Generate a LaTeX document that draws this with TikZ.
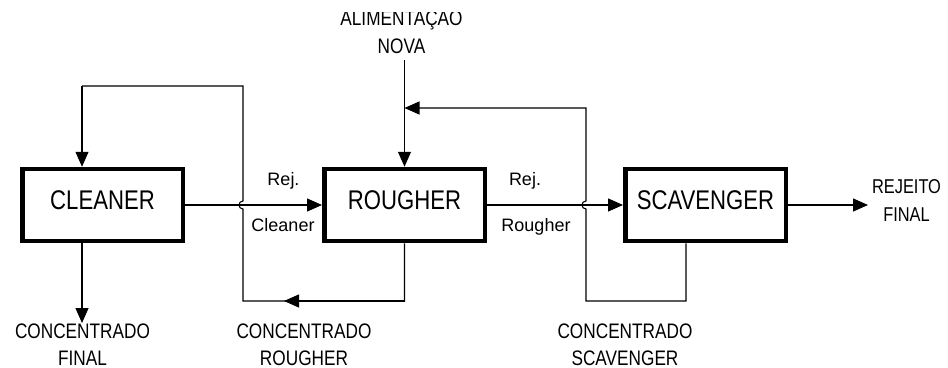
\documentclass[tikz,border=0pt]{standalone}
\usepackage{fontspec}
\setmainfont{Liberation Sans}
\usepackage{graphicx}
\usetikzlibrary{arrows.meta}
\newcommand{\sqz}[1]{\scalebox{0.82}[1]{#1}}
\begin{document}
\begin{tikzpicture}[x=1pt,y=-1pt,
  box/.style={draw,line width=4.5pt,minimum width=160.5pt,minimum height=72pt,inner sep=0pt,
    font=\fontsize{27}{30}\selectfont,text height=19.3pt,text depth=9.7pt},
  caplbl/.style={font=\fontsize{21}{27}\selectfont,align=center,inner sep=0pt,anchor=base},
  small/.style={font=\fontsize{18}{20}\selectfont,inner sep=0pt,anchor=base},
  flow/.style={line width=1.1pt},
  arr/.style={flow,-{Triangle[length=15pt,width=13pt]}}]
\useasboundingbox (0,0) rectangle (948,367);
% boxes
\node[box] (C) at (102.5,205) {\sqz{CLEANER}};
\node[box] (R) at (404.5,205) {\sqz{ROUGHER}};
\node[box] (S) at (705.5,205) {\sqz{SCAVENGER}};
% texts (anchor base = baseline of the last line)
\begin{scope}
\clip (0,12) rectangle (948,367);
\node[caplbl,font=\fontsize{21}{28}\selectfont] (feed) at (401.5,53) {\sqz{ALIMENTAÇÃO}\\\sqz{NOVA}};
\end{scope}
\node[caplbl] (cf) at (82.5,365) {\sqz{CONCENTRADO}\\\sqz{FINAL}};
\node[caplbl] (cr) at (304,365) {\sqz{CONCENTRADO}\\\sqz{ROUGHER}};
\node[caplbl] (cs) at (625,365) {\sqz{CONCENTRADO}\\\sqz{SCAVENGER}};
\node[caplbl,font=\fontsize{20}{28}\selectfont] (rf) at (906.5,221) {\sqz{REJEITO}\\\sqz{FINAL}};
\node[small] (r1) at (283.5,185) {Rej.};
\node[small] (c1) at (283,231.5) {Cleaner};
\node[small] (r2) at (525,185) {Rej.};
\node[small] (c2) at (536,231.5) {Rougher};
% coordinates
\coordinate (feedtop) at (404.5,60);
\coordinate (rb) at (404.5,301);
\coordinate (rbm) at (284,301);
\coordinate (lb) at (243,301);
\coordinate (lt) at (243,86);
\coordinate (ct) at (82,86);
\coordinate (cfe) at (82,323);
\coordinate (sb) at (686,301);
\coordinate (vb) at (586,301);
\coordinate (vt) at (586,108);
\coordinate (rt) at (404.5,108);
\coordinate (out) at (868,205);
% connectors
\draw[arr] (C.east) -- (R.west);
\draw[arr] (R.east) -- (S.west);
\draw[arr] (S.east) -- (out);
\draw[arr] (feedtop) -- (R.north);
\draw[arr] (ct |- C.south) -- (cfe);
\draw[flow] (R.south) -- (rb) -- (lb) -- (243,209) .. controls (237.7,209) and (237.7,201) .. (243,201) -- (lt) -- (ct);
\draw[arr] (rb) -- (rbm);
\draw[arr] (ct) -- (ct |- C.north);
\draw[arr] (sb |- S.south) -- (sb) -- (vb) -- (586,209) .. controls (580.7,209) and (580.7,201) .. (586,201) -- (vt) -- (rt);
\end{tikzpicture}
\end{document}
